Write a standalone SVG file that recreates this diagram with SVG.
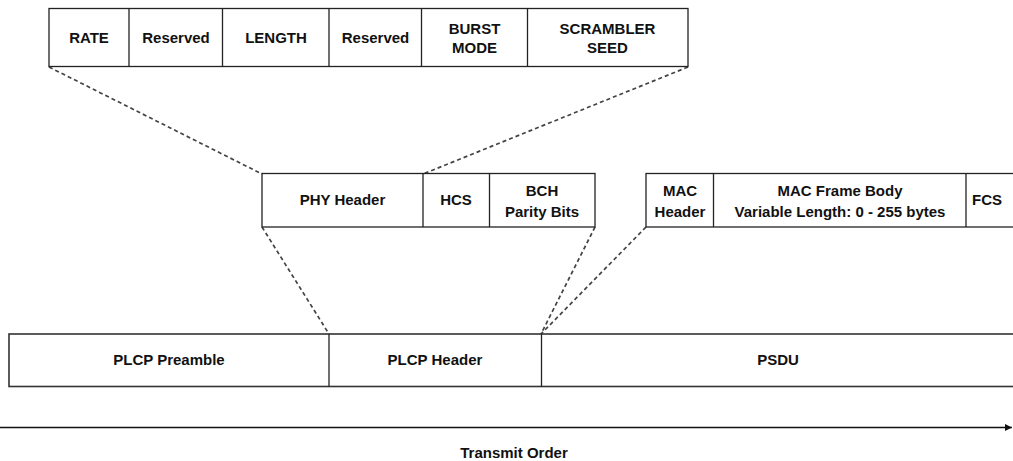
<svg xmlns="http://www.w3.org/2000/svg" width="1013" height="461" viewBox="0 0 1013 461">
<style>
.box{fill:#fff;stroke:#222;stroke-width:1.3}
.div{stroke:#222;stroke-width:1.3}
.t{font-family:"Liberation Sans",Arial,sans-serif;font-weight:bold;font-size:15px;fill:#111;text-anchor:middle}
.dash{stroke:#444;stroke-width:1.7;stroke-dasharray:4,3;fill:none}
</style>
<defs>
<marker id="ah" markerWidth="8" markerHeight="8" refX="7" refY="4" orient="auto" markerUnits="userSpaceOnUse">
<path d="M0,0.5 L7,4 L0,7.5 Z" fill="#111"/>
</marker>
</defs>
<g id="connectors">
<line class="dash" x1="49" y1="67" x2="262" y2="174"/>
<line class="dash" x1="688" y1="67" x2="423" y2="174"/>
<line class="dash" x1="262" y1="227" x2="329" y2="334"/>
<line class="dash" x1="595" y1="227" x2="541" y2="334"/>
<line class="dash" x1="646" y1="227" x2="541" y2="334"/>
<line x1="0" y1="427.5" x2="1012" y2="427.5" stroke="#111" stroke-width="1.3" marker-end="url(#ah)"/>
</g>
<g id="phy-fields">
<rect class="box" x="49" y="8.5" width="639" height="58"/>
<line class="div" x1="129" y1="8.5" x2="129" y2="66.5"/>
<line class="div" x1="222.5" y1="8.5" x2="222.5" y2="66.5"/>
<line class="div" x1="329" y1="8.5" x2="329" y2="66.5"/>
<line class="div" x1="421.5" y1="8.5" x2="421.5" y2="66.5"/>
<line class="div" x1="527.5" y1="8.5" x2="527.5" y2="66.5"/>
<text class="t" x="89" y="42.5">RATE</text>
<text class="t" x="176" y="42.5">Reserved</text>
<text class="t" x="276" y="42.5">LENGTH</text>
<text class="t" x="375.5" y="42.5">Reserved</text>
<text class="t" x="474.5" y="33.5">BURST</text>
<text class="t" x="474.5" y="52.5">MODE</text>
<text class="t" x="607.5" y="33.5">SCRAMBLER</text>
<text class="t" x="607.5" y="52.5">SEED</text>
</g>
<g id="plcp-header-fields">
<rect class="box" x="262" y="173.5" width="333" height="53.5"/>
<line class="div" x1="423" y1="173.5" x2="423" y2="227"/>
<line class="div" x1="489.5" y1="173.5" x2="489.5" y2="227"/>
<text class="t" x="342.5" y="205">PHY Header</text>
<text class="t" x="456" y="205">HCS</text>
<text class="t" x="542" y="196">BCH</text>
<text class="t" x="542" y="216.5">Parity Bits</text>
</g>
<g id="psdu-fields">
<rect class="box" x="646" y="173.5" width="380" height="53.5"/>
<line class="div" x1="713.5" y1="173.5" x2="713.5" y2="227"/>
<line class="div" x1="966" y1="173.5" x2="966" y2="227"/>
<text class="t" x="680" y="196">MAC</text>
<text class="t" x="680" y="216.5">Header</text>
<text class="t" x="840" y="196">MAC Frame Body</text>
<text class="t" x="840" y="216.5">Variable Length: 0 - 255 bytes</text>
<text class="t" x="987" y="205">FCS</text>
</g>
<g id="ppdu">
<rect class="box" x="9" y="334" width="1020" height="52.5" style="stroke-width:1.6;stroke:#333"/>
<line class="div" x1="329" y1="334" x2="329" y2="386.5"/>
<line class="div" x1="541.5" y1="334" x2="541.5" y2="386.5"/>
<text class="t" x="169" y="365">PLCP Preamble</text>
<text class="t" x="435" y="365">PLCP Header</text>
<text class="t" x="778" y="365">PSDU</text>
</g>
<g id="label">
<text class="t" x="514" y="458">Transmit Order</text>
</g>
</svg>
